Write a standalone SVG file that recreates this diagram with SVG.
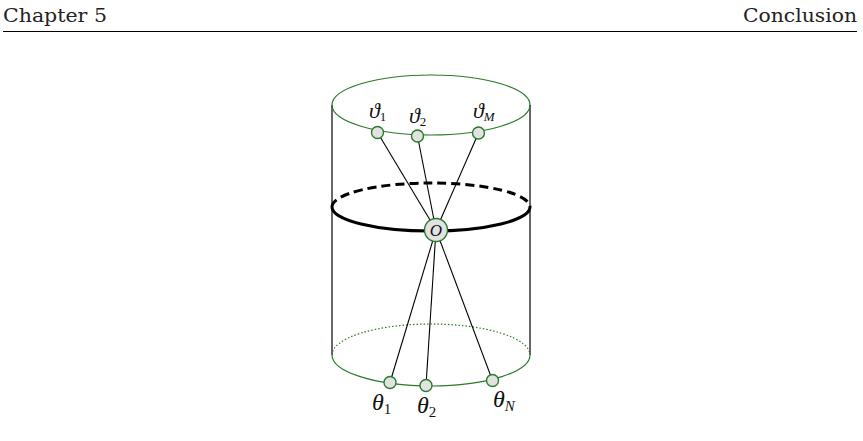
<svg xmlns="http://www.w3.org/2000/svg" width="863" height="441" viewBox="0 0 863 441">
<style>
.hdr{font-family:"DejaVu Serif","Liberation Serif",serif;font-size:18.5px;fill:#222}
.m{font-family:"Liberation Serif","DejaVu Serif",serif;font-style:italic;fill:#111}
.s{font-style:normal}
.g{fill:none;stroke:#2a7a2a;stroke-width:1.2}
.side{stroke:#000;stroke-width:1.2}
.conn line{stroke:#000;stroke-width:1.1}
.node circle{fill:#e2e2e2;stroke:#2a7a2a;stroke-width:1.4}
</style>
<rect width="863" height="441" fill="#fff"/>
<text class="hdr" x="3" y="22" textLength="104" lengthAdjust="spacingAndGlyphs">Chapter 5</text>
<text class="hdr" x="743" y="22" textLength="114" lengthAdjust="spacingAndGlyphs">Conclusion</text>
<line x1="3" y1="31.5" x2="857" y2="31.5" stroke="#000" stroke-width="1.2"/>

<g id="cylinder">
<line class="side" x1="332" y1="105" x2="332" y2="355"/>
<line class="side" x1="530" y1="105" x2="530" y2="355"/>
<ellipse class="g" cx="431" cy="105" rx="99" ry="30"/>
<path class="g" d="M332,355 A99,31 0 0 1 530,355" stroke-dasharray="1.5,2" stroke-width="1"/>
<path class="g" d="M332,355 A99,31 0 0 0 530,355"/>
<path d="M332,207 A99,24 0 0 1 530,207" fill="none" stroke="#000" stroke-width="3" stroke-dasharray="9,5"/>
<path d="M332,207 A99,24 0 0 0 530,207" fill="none" stroke="#000" stroke-width="3"/>
</g>

<g id="connectors" class="conn">
<line x1="377.5" y1="132.5" x2="436" y2="230"/>
<line x1="417.5" y1="136" x2="436" y2="230"/>
<line x1="478.5" y1="133" x2="436" y2="230"/>
<line x1="436" y1="230" x2="390" y2="382.5"/>
<line x1="436" y1="230" x2="426" y2="385.5"/>
<line x1="436" y1="230" x2="492.5" y2="380.5"/>
</g>

<g id="node-v1" class="node"><circle cx="377.5" cy="132.5" r="6"/>
<text class="m" x="369" y="118" font-size="22">ϑ<tspan class="s" font-size="13" dy="3">1</tspan></text></g>
<g id="node-v2" class="node"><circle cx="417.5" cy="136" r="6"/>
<text class="m" x="409" y="123" font-size="22">ϑ<tspan class="s" font-size="13" dy="3">2</tspan></text></g>
<g id="node-vM" class="node"><circle cx="478.5" cy="133" r="6"/>
<text class="m" x="473" y="118" font-size="22">ϑ<tspan font-size="13" dy="3">M</tspan></text></g>

<g id="node-O" class="node"><circle cx="436" cy="230" r="11.5"/>
<text class="m" x="436" y="236" font-size="17" text-anchor="middle">O</text></g>

<g id="node-t1" class="node"><circle cx="390" cy="382.5" r="6"/>
<text class="m" x="372" y="410" font-size="24">θ<tspan class="s" font-size="15" dy="4">1</tspan></text></g>
<g id="node-t2" class="node"><circle cx="426" cy="385.5" r="6"/>
<text class="m" x="417" y="413" font-size="24">θ<tspan class="s" font-size="15" dy="4">2</tspan></text></g>
<g id="node-tN" class="node"><circle cx="492.5" cy="380.5" r="6"/>
<text class="m" x="493" y="407" font-size="24">θ<tspan font-size="15" dy="4">N</tspan></text></g>
</svg>
